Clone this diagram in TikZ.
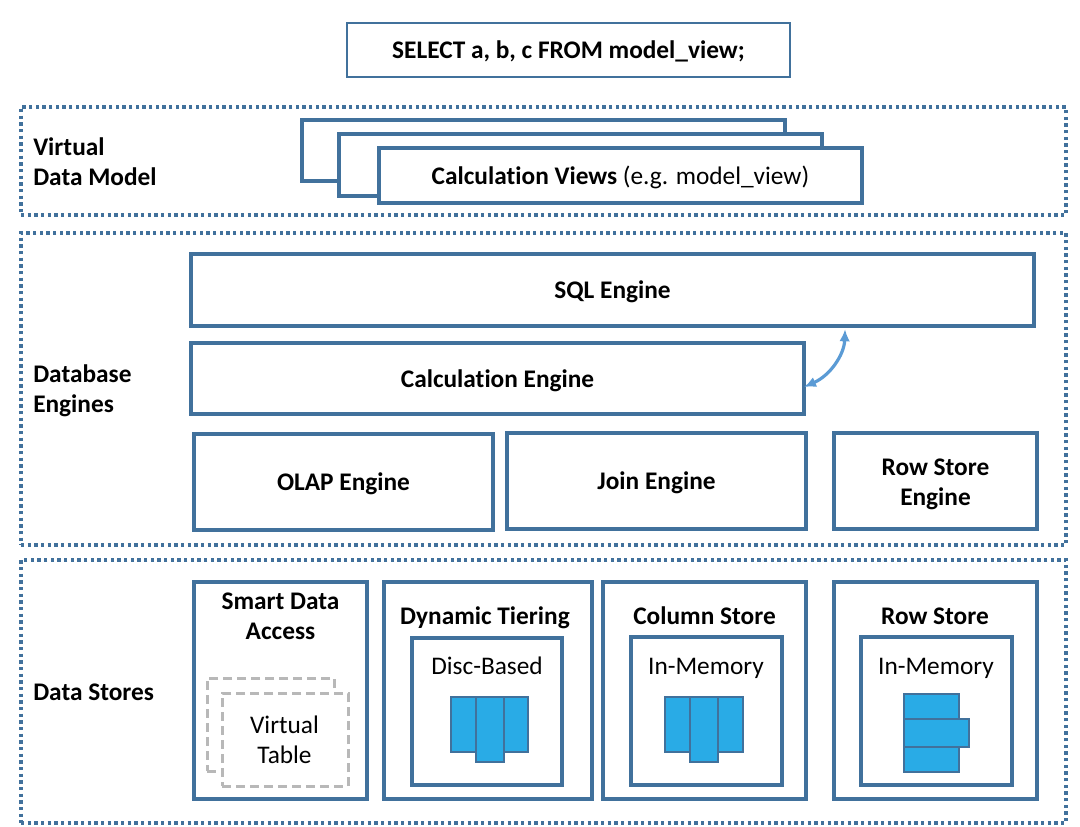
\documentclass[tikz,border=0pt]{standalone}
\usepackage{fontspec}
\setmainfont[Ligatures=NoCommon]{Carlito}
\usepackage{tikz}
\usetikzlibrary{calc}
\usetikzlibrary{arrows.meta}
\definecolor{boxblue}{HTML}{41719C}
\definecolor{arrowblue}{HTML}{5B9BD5}
\definecolor{cellblue}{HTML}{29ABE6}
\definecolor{dashgray}{HTML}{B8B8B8}
\tikzset{
	boxsize/.style 2 args = {minimum width = #1*0.75pt, minimum height = #2*0.75pt},
	plainbox/.style = {draw = boxblue, line width = 2.4pt, fill = white, inner sep = 0pt, outer sep = 0pt, anchor = north west, align = center, text height = 16pt, text depth = 3.2pt, font = \bfseries\fontsize{19}{22.5}\selectfont},
	querybox/.style = {plainbox, line width = 1.2pt},
	layerbox/.style = {draw = boxblue, line width = 2.6pt, dash pattern = on 2.4pt off 2.6pt, inner sep = 0pt, outer sep = 0pt, anchor = north west},
	layerlabel/.style = {anchor = west, align = left, inner sep = 0pt, font = \bfseries\fontsize{19}{22.5}\selectfont},
	boxtitle/.style = {align = center, inner sep = 0pt, font = \bfseries\fontsize{19}{22.5}\selectfont},
	mediumbox/.style = {plainbox, font = \fontsize{19}{22.5}\selectfont},
	mediumlabel/.style = {align = center, inner sep = 0pt, font = \fontsize{19}{22.5}\selectfont},
	cell/.style = {draw = boxblue, line width = 0.9pt, fill = cellblue, inner sep = 0pt, outer sep = 0pt, anchor = north west},
	virtualbox/.style = {draw = dashgray, line width = 2.25pt, dash pattern = on 7pt off 3.5pt, fill = white, inner sep = 0pt, outer sep = 0pt, anchor = north west},
}
\begin{document}
\begin{tikzpicture}[x = 0.75pt, y = -0.75pt]
	\useasboundingbox (0,0) rectangle (1080,826);

	% query
	\node [querybox, boxsize = {443}{54}] (query) at (347,23) {SELECT a, b, c FROM model\_view;};

	% layers
	\node [layerbox, boxsize = {1045}{108}] (modellayer) at (21,107) {};
	\node [layerbox, boxsize = {1045}{312}] (enginelayer) at (21,233) {};
	\node [layerbox, boxsize = {1045}{263}] (storelayer) at (21,560) {};
	\node [layerlabel] (modellabel) at (33,162) {Virtual\\Data Model};
	\node [layerlabel] (enginelabel) at (33,390.5) {Database\\Engines};
	\node [layerlabel] (storelabel) at (33,692) {Data Stores};

	% calculation views
	\node [plainbox, boxsize = {483}{61}] (viewback) at (302,120) {};
	\node [plainbox, boxsize = {483}{62}] (viewmid) at (339,134) {};
	\node [plainbox, boxsize = {483}{55}] (viewfront) at (379,148) {Calculation Views \mdseries(e.g. model\_view)};

	% engines
	\node [plainbox, boxsize = {843}{72}] (sqlengine) at (191,254) {SQL Engine};
	\node [plainbox, boxsize = {613}{71}] (calcengine) at (191,343) {Calculation Engine};
	\node [plainbox, boxsize = {299}{96}] (olapengine) at (194,434) {OLAP Engine};
	\node [plainbox, boxsize = {299}{96}] (joinengine) at (507,433) {Join Engine};
	\node [plainbox, boxsize = {203}{96}] (rowengine) at (834,433) {};
	\node [boxtitle] (rowenginelabel) at (935.5,484) {Row Store\\Engine};
	\draw [arrowblue, line width = 2.4pt, shorten > = 2.5pt, {Latex[length = 9pt, width = 8pt]}-{Latex[length = 9pt, width = 8pt]}] ($(calcengine.north east)!0.62!(calcengine.south east)$) to [bend right = 32] ($(sqlengine.south west)!0.776!(sqlengine.south east)$);

	% stores
	\node [plainbox, boxsize = {173}{217}] (smartstore) at (194,582) {};
	\node [plainbox, boxsize = {208}{217}] (tierstore) at (384,582) {};
	\node [plainbox, boxsize = {203}{217}] (columnstore) at (603,582) {};
	\node [plainbox, boxsize = {203}{217}] (rowstore) at (834,582) {};
	\node [boxtitle] (smarttitle) at (280.5,616) {Smart Data\\Access};
	\node [boxtitle] (tiertitle) at (485,618) {Dynamic Tiering};
	\node [boxtitle] (columntitle) at (704.5,616) {Column Store};
	\node [boxtitle] (rowtitle) at (935,616) {Row Store};

	% virtual table
	\node [virtualbox, boxsize = {127}{93}] (tableback) at (207,678) {};
	\node [virtualbox, boxsize = {126}{93}] (tablefront) at (222,693) {};
	\node [mediumlabel] (tablelabel) at (284.5,740) {Virtual\\Table};

	% memory boxes
	\node [mediumbox, boxsize = {150}{147}] (discbox) at (412,638) {};
	\node [mediumbox, boxsize = {151}{148}] (columnbox) at (631,637) {};
	\node [mediumbox, boxsize = {151}{148}] (rowbox) at (861,637) {};
	\node [mediumlabel] (disclabel) at (487,665.5) {Disc-Based};
	\node [mediumlabel] (columnlabel) at (706,668) {In-Memory};
	\node [mediumlabel] (rowlabel) at (936,668) {In-Memory};

	% disc cells
	\node [cell, boxsize = {25}{55}] (discleft) at (451,697) {};
	\node [cell, boxsize = {24}{55}] (discright) at (504,697) {};
	\node [cell, boxsize = {28}{65}] (discmid) at (476,697) {};

	% column cells
	\node [cell, boxsize = {25}{55}] (columnleft) at (665,697) {};
	\node [cell, boxsize = {25}{55}] (columnright) at (718,697) {};
	\node [cell, boxsize = {28}{65}] (columnmid) at (690,697) {};

	% row cells
	\node [cell, boxsize = {55}{25}] (celltop) at (904,694) {};
	\node [cell, boxsize = {55}{25}] (cellbottom) at (904,747) {};
	\node [cell, boxsize = {65}{28}] (cellmid) at (904,719) {};
\end{tikzpicture}
\end{document}
